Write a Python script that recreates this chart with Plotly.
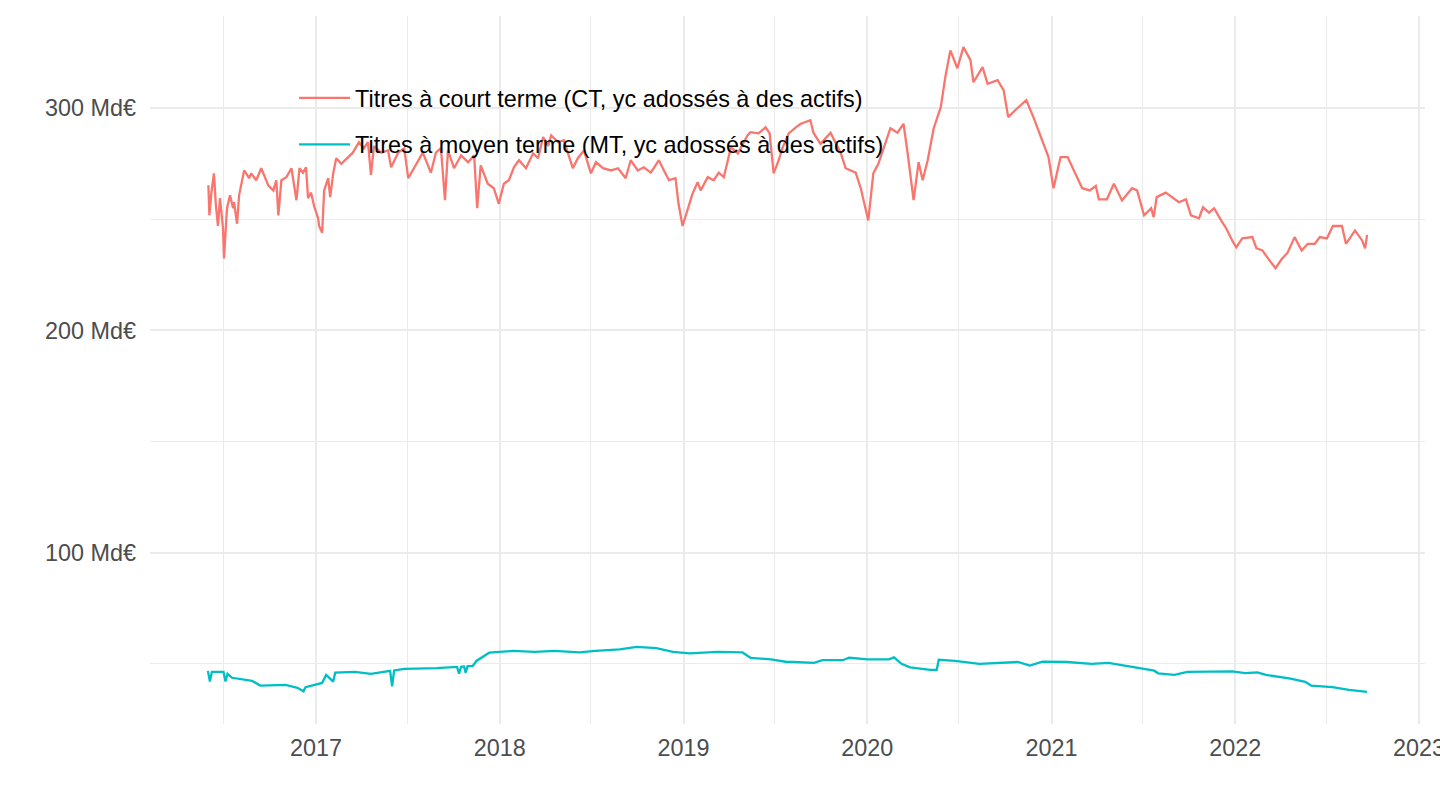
import plotly.graph_objects as go

ct_dates = [
    "2016-06-01", "2016-06-03", "2016-06-07", "2016-06-12", "2016-06-16", "2016-06-20", "2016-06-24",
    "2016-06-30", "2016-07-02", "2016-07-08", "2016-07-14", "2016-07-20", "2016-07-22", "2016-07-28",
    "2016-08-01", "2016-08-11", "2016-08-21", "2016-08-25", "2016-09-04", "2016-09-14", "2016-09-28",
    "2016-10-08", "2016-10-14", "2016-10-18", "2016-10-24", "2016-11-03", "2016-11-13", "2016-11-23",
    "2016-11-29", "2016-12-06", "2016-12-12", "2016-12-16", "2016-12-22", "2016-12-28", "2017-01-05",
    "2017-01-07", "2017-01-13", "2017-01-17", "2017-01-25", "2017-01-29", "2017-02-04", "2017-02-10",
    "2017-02-20", "2017-03-05", "2017-03-15", "2017-03-27", "2017-04-06", "2017-04-14", "2017-04-20",
    "2017-04-26", "2017-05-10", "2017-05-24", "2017-05-30", "2017-06-13", "2017-06-25", "2017-07-03",
    "2017-07-14", "2017-08-01", "2017-08-17", "2017-08-27", "2017-09-06", "2017-09-14", "2017-09-20",
    "2017-10-02", "2017-10-16", "2017-10-30", "2017-11-11", "2017-11-17", "2017-11-24", "2017-12-08",
    "2017-12-20", "2017-12-30", "2018-01-09", "2018-01-19", "2018-01-29", "2018-02-08", "2018-02-22",
    "2018-03-08", "2018-03-18", "2018-03-28", "2018-04-07", "2018-04-13", "2018-04-27", "2018-05-08",
    "2018-05-26", "2018-06-05", "2018-06-17", "2018-07-01", "2018-07-11", "2018-07-25", "2018-08-10",
    "2018-08-24", "2018-09-08", "2018-09-18", "2018-10-02", "2018-10-14", "2018-10-28", "2018-11-13",
    "2018-11-23", "2018-12-03", "2018-12-16", "2018-12-22", "2018-12-30", "2019-01-09", "2019-01-19",
    "2019-01-29", "2019-02-04", "2019-02-18", "2019-03-02", "2019-03-12", "2019-03-22", "2019-03-30",
    "2019-04-05", "2019-04-19", "2019-04-29", "2019-05-08", "2019-05-14", "2019-05-30", "2019-06-13",
    "2019-06-21", "2019-06-29", "2019-07-09", "2019-07-17", "2019-07-29", "2019-08-12", "2019-08-22",
    "2019-09-10", "2019-09-16", "2019-09-30", "2019-10-20", "2019-11-09", "2019-11-19", "2019-12-09",
    "2019-12-19", "2020-01-03", "2020-01-13", "2020-01-23", "2020-02-16", "2020-03-01", "2020-03-13",
    "2020-03-21", "2020-04-02", "2020-04-12", "2020-04-20", "2020-04-30", "2020-05-12", "2020-05-26",
    "2020-06-04", "2020-06-14", "2020-06-28", "2020-07-10", "2020-07-24", "2020-07-30", "2020-08-17",
    "2020-08-27", "2020-09-16", "2020-09-28", "2020-10-07", "2020-10-25", "2020-11-12", "2020-11-26",
    "2020-12-14", "2020-12-26", "2021-01-05", "2021-01-19", "2021-02-02", "2021-02-14", "2021-03-03",
    "2021-03-18", "2021-03-30", "2021-04-05", "2021-04-21", "2021-05-05", "2021-05-21", "2021-06-10",
    "2021-06-20", "2021-07-04", "2021-07-18", "2021-07-23", "2021-07-29", "2021-08-16", "2021-08-28",
    "2021-09-11", "2021-09-25", "2021-10-05", "2021-10-21", "2021-10-29", "2021-11-10", "2021-11-20",
    "2021-12-04", "2021-12-14", "2021-12-26", "2022-01-03", "2022-01-15", "2022-02-04", "2022-02-12",
    "2022-02-24", "2022-03-10", "2022-03-22", "2022-04-03", "2022-04-15", "2022-04-29", "2022-05-13",
    "2022-05-25", "2022-06-08", "2022-06-18", "2022-07-02", "2022-07-14", "2022-08-01", "2022-08-09",
    "2022-08-27", "2022-09-10", "2022-09-16", "2022-09-20",
]
ct_values = [
    265.3, 251.8, 262, 270.7, 256, 247, 259.5,
    246, 232.4, 255, 260.8, 255, 257.7, 248,
    260.8, 272, 268.5, 270.7, 267.6, 273, 265.3,
    263, 267.6, 251.8, 267.6, 269, 273, 258.6,
    273, 271, 273.4, 259.5, 262, 256, 250.5,
    247, 244, 263, 268.5, 260, 270.7, 277.5,
    275, 278, 280, 284.7, 282, 284.7, 270,
    283, 280, 281, 273.4, 280, 282, 268.5,
    273, 280, 271, 280, 282, 258.6, 281,
    273, 278.8, 275.7, 278.8, 255, 274.3, 266,
    264, 257, 266, 267.6, 273.4, 276.6, 273,
    279.7, 277.5, 287, 283, 287.8, 284.7, 285.6,
    273, 277.5, 281, 270.7, 275.7, 273, 272,
    273, 268.5, 276.6, 272, 273.4, 271, 276.6,
    272, 267.6, 268.5, 257, 247, 254, 261.7,
    266.7, 263, 269, 267.6, 271, 269, 276.6,
    282.4, 279.7, 284.2, 287.8, 289.2, 288.7, 291.4,
    288.7, 270.7, 276.6, 282.4, 288.7, 291.4, 293,
    294.6, 289, 284, 289, 280, 273, 271,
    264, 249.5, 270.7, 275, 291, 289, 293,
    280, 258.6, 275.7, 267.6, 276.6, 291, 300.5,
    314, 326, 318, 327.5, 321.6, 311.7, 318.5,
    311, 312.6, 308, 296, 300, 303.6, 296,
    285.6, 278, 264, 278, 278, 272, 264,
    263, 265, 259, 259, 266, 258.5, 264,
    263, 251.8, 255, 251, 260, 262, 260,
    257.7, 259, 251.8, 250.5, 255.4, 253, 255,
    249.5, 246, 240.5, 237.4, 241.4, 242, 237,
    236, 231.5, 228, 232, 235, 242, 236,
    239, 239, 242, 241.4, 247, 247, 239,
    245, 240.5, 237, 243,
]

mt_dates = [
    "2016-05-31", "2016-06-04", "2016-06-08", "2016-07-01", "2016-07-05", "2016-07-09", "2016-07-18",
    "2016-08-27", "2016-09-12", "2016-11-01", "2016-11-25", "2016-12-07", "2016-12-11", "2016-12-28",
    "2017-01-13", "2017-01-21", "2017-02-04", "2017-02-08", "2017-03-19", "2017-04-20", "2017-05-28",
    "2017-06-01", "2017-06-05", "2017-06-25", "2017-08-29", "2017-10-08", "2017-10-12", "2017-10-16",
    "2017-10-22", "2017-10-25", "2017-10-29", "2017-11-08", "2017-11-16", "2017-12-11", "2018-01-28",
    "2018-03-11", "2018-04-20", "2018-06-08", "2018-07-10", "2018-08-27", "2018-09-30", "2018-11-08",
    "2018-12-11", "2019-01-13", "2019-03-09", "2019-04-28", "2019-05-14", "2019-06-24", "2019-07-25",
    "2019-08-08", "2019-09-17", "2019-10-04", "2019-11-13", "2019-11-26", "2020-01-02", "2020-02-13",
    "2020-02-23", "2020-03-09", "2020-03-26", "2020-05-05", "2020-05-18", "2020-05-22", "2020-06-23",
    "2020-08-11", "2020-09-22", "2020-10-26", "2020-11-19", "2020-12-14", "2021-02-01", "2021-03-22",
    "2021-04-24", "2021-05-27", "2021-06-29", "2021-07-24", "2021-08-01", "2021-09-02", "2021-09-28",
    "2021-11-15", "2021-12-26", "2022-01-21", "2022-02-14", "2022-03-03", "2022-04-21", "2022-05-20",
    "2022-06-01", "2022-07-13", "2022-08-15", "2022-09-20",
]
mt_values = [
    46.8, 42, 46.4, 46.4, 42, 45.5, 43.7,
    42.3, 40.2, 40.5, 39.2, 37.6, 39.5, 40.5,
    41.4, 45, 42, 46, 46.4, 45.5, 46.8,
    39.8, 47, 47.7, 48, 48.6, 45.5, 48.6,
    48.8, 46, 48.9, 49, 51.4, 55, 55.8,
    55.4, 55.8, 55.1, 55.8, 56.5, 57.6, 57,
    55.4, 54.7, 55.4, 55.1, 52.7, 52, 50.8,
    50.8, 50.4, 51.6, 51.6, 52.7, 52, 52,
    52.9, 50, 48.4, 47.3, 47.3, 51.8, 51.3,
    50, 50.4, 50.8, 49.2, 51, 50.8, 50,
    50.4, 49.2, 47.7, 46.9, 45.7, 45, 46.4,
    46.6, 46.6, 45.8, 46.1, 45, 43.3, 41.9,
    40.2, 39.5, 38.3, 37.4,
]

series_names = [
    "Titres à court terme (CT, yc adossés à des actifs)",
    "Titres à moyen terme (MT, yc adossés à des actifs)",
]
y_tick_values = [100, 200, 300]
y_tick_labels = ["100 Md€", "200 Md€", "300 Md€"]

FONT = "Liberation Sans, Arial, Helvetica, sans-serif"
FS = 23.4

fig = go.Figure()
fig.add_trace(go.Scatter(
    x=ct_dates, y=ct_values, mode="lines", name=series_names[0],
    line=dict(color="#F8766D", width=2.3), legendgroup="a",
))
fig.add_trace(go.Scatter(
    x=mt_dates, y=mt_values, mode="lines", name=series_names[1],
    line=dict(color="#00BFC4", width=2.3), legendgroup="b",
))

fig.update_layout(
    width=1440, height=810,
    margin=dict(l=150, r=15, t=16, b=86, autoexpand=False),
    paper_bgcolor="white", plot_bgcolor="white",
    font=dict(family=FONT, size=FS, color="#4D4D4D"),
    showlegend=True,
    legend=dict(
        x=0.113, y=0.915, xanchor="left", yanchor="top",
        bgcolor="rgba(0,0,0,0)", borderwidth=0,
        font=dict(family=FONT, size=FS, color="black"),
        traceorder="grouped", tracegroupgap=13,
        itemwidth=51,
    ),
    xaxis=dict(
        type="date",
        range=["2016-02-06", "2023-01-13"],
        tick0="2017-01-01", dtick="M12", tickformat="%Y",
        showgrid=True, gridcolor="#EBEBEB", gridwidth=2,
        minor=dict(tick0="2016-07-01", dtick="M12", showgrid=True,
                   gridcolor="#EBEBEB", gridwidth=1, ticklen=0),
        zeroline=False, showline=False, ticks="",
        ticklabelstandoff=8,
        ticklabeloverflow="allow",
        automargin=False,
        tickfont=dict(family=FONT, size=FS, color="#4D4D4D"),
    ),
    yaxis=dict(
        range=[22.9, 341.5],
        tickvals=y_tick_values, ticktext=y_tick_labels,
        showgrid=True, gridcolor="#EBEBEB", gridwidth=2,
        minor=dict(tickvals=[50, 150, 250], showgrid=True,
                   gridcolor="#EBEBEB", gridwidth=1, ticklen=0),
        zeroline=False, showline=False, ticks="",
        ticklabelstandoff=13,
        automargin=False,
        tickfont=dict(family=FONT, size=FS, color="#4D4D4D"),
    ),
)

fig.write_html(
    "out.html",
    config={"displayModeBar": False},
    post_script="document.body.style.margin='0px';document.body.style.overflow='hidden';",
)
